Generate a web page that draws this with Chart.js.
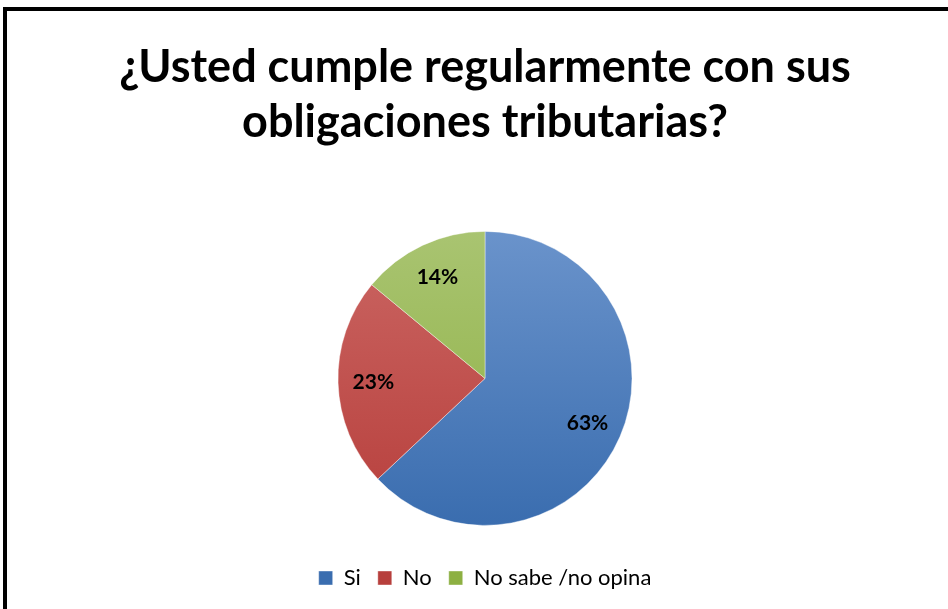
<!DOCTYPE html>
<html>
<head>
<meta charset="utf-8">
<script src="https://cdn.jsdelivr.net/npm/chart.js@4"></script>
<style>
    html, body { margin: 0; padding: 0; background: #fff; overflow: hidden; }
    #frame { position: absolute; left: 3px; top: 7px; width: 960px; height: 620px; border: 4px solid #000; }
    #wrap { position: absolute; left: 0; top: 0; width: 948px; height: 609px; }
</style>
</head>
<body>
<div id="frame"></div>
<div id="wrap"><canvas id="pie-chart"></canvas></div>
<script>
var labels = ['Si', 'No', 'No sabe /no opina'];
var values = [63, 23, 14];
var topColors = ['#6a93cb', '#cb6663', '#a9c471'];
var bottomColors = ['#3a6daf', '#b73f3c', '#8db042'];

var pieChart;

function sliceFill(ctx) {
    var area = ctx.chart.chartArea;
    if (!area || !isFinite(area.top) || !isFinite(area.bottom)) return bottomColors[ctx.dataIndex];
    var cy = (area.top + area.bottom) / 2;
    var r = 147;
    var g = ctx.chart.ctx.createLinearGradient(0, cy - r, 0, cy + r);
    g.addColorStop(0, topColors[ctx.dataIndex]);
    g.addColorStop(1, bottomColors[ctx.dataIndex]);
    return g;
}

// percent labels inside the slices
var sliceLabels = {
    id: 'sliceLabels',
    afterDatasetsDraw: function(chart) {
        var c = chart.ctx;
        var total = values.reduce(function(a, b) { return a + b; }, 0);
        c.save();
        c.font = 'bold 21px Lato';
        c.fillStyle = '#000';
        c.textAlign = 'center';
        c.textBaseline = 'middle';
        chart.getDatasetMeta(0).data.forEach(function(arc, i) {
            var mid = (arc.startAngle + arc.endAngle) / 2;
            var d = arc.outerRadius * 0.76;
            var x = arc.x + Math.cos(mid) * d;
            var y = arc.y + Math.sin(mid) * d;
            c.fillText(Math.round(values[i] / total * 100) + '%', x, y);
        });
        c.restore();
    }
};

pieChart = new Chart(document.getElementById('pie-chart').getContext('2d'), {
    type: 'pie',
    data: {
        labels: labels,
        datasets: [{
            data: values,
            backgroundColor: sliceFill,
            borderColor: 'rgba(255,255,255,0.4)',
            borderWidth: 1,
            radius: 147
        }]
    },
    options: {
        responsive: true,
        maintainAspectRatio: false,
        animation: false,
        layout: { padding: { top: 4, bottom: 10, left: 22, right: 0 } },
        plugins: {
            title: {
                display: true,
                text: ['¿Usted cumple regularmente con sus', 'obligaciones tributarias?'],
                color: '#000',
                font: { family: 'Lato', size: 45, weight: 'bold', lineHeight: 1.22 },
                padding: { top: 36, bottom: 57 }
            },
            legend: {
                position: 'bottom',
                labels: {
                    color: '#000',
                    font: { family: 'Lato', size: 22 },
                    boxWidth: 14,
                    boxHeight: 14,
                    padding: 17
                }
            },
            tooltip: { enabled: false }
        }
    },
    plugins: [sliceLabels]
});
</script>
</body>
</html>
